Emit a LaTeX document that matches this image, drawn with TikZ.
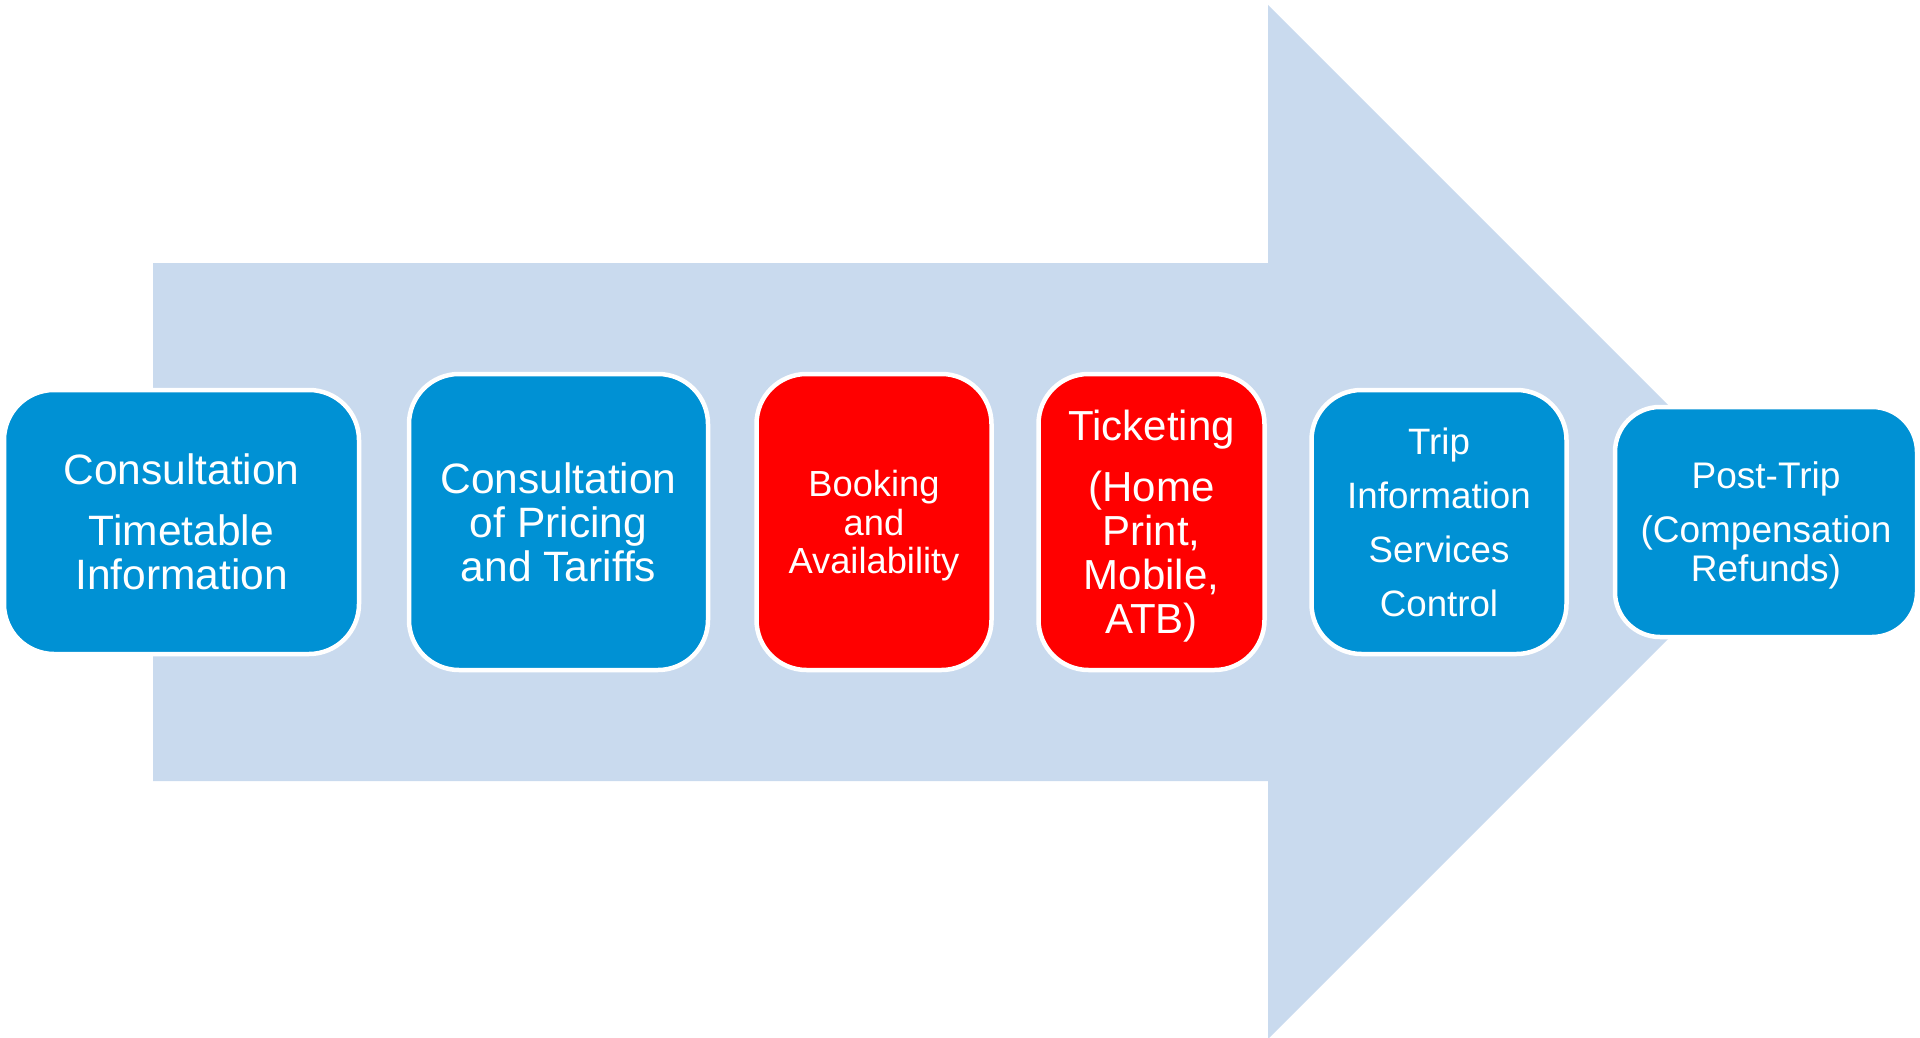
\documentclass[tikz,border=0pt]{standalone}
\usepackage{fontspec}
\setmainfont{Liberation Sans}
\usepackage{tikz}

\definecolor{arrowblue}{RGB}{201,218,238}
\definecolor{stageblue}{RGB}{0,145,212}
\definecolor{stagered}{RGB}{255,0,0}

\begin{document}
\begin{tikzpicture}[x=1pt, y=-1pt,
    stage/.style={draw=white, line width=4.5pt, rounded corners=50pt,
        text=white, align=center, inner sep=0pt},
    bluestage/.style={stage, fill=stageblue},
    redstage/.style={stage, fill=stagered}]

    \useasboundingbox (0,0) rectangle (1920,1038);

    % the big process arrow behind the stages
    \fill[arrowblue] (153,263) -- (1268,263) -- (1268,5) -- (1785,522)
        -- (1268,1039) -- (1268,781) -- (153,781) -- cycle;

    \node[bluestage, minimum width=355pt, minimum height=264pt,
        font=\fontsize{42.5}{44}\selectfont] (consult) at (181.5,522) {
        Consultation\\[17pt]
        Timetable\\
        Information
    };

    \node[bluestage, minimum width=299pt, minimum height=296pt,
        font=\fontsize{42.5}{44}\selectfont] (pricing) at (558.5,522) {
        Consultation\\
        of Pricing\\
        and Tariffs
    };

    \node[redstage, minimum width=235pt, minimum height=296pt, text depth=0pt,
        font=\fontsize{36.3}{38.6}\selectfont] (booking) at (874,522) {
        Booking\\
        and\\
        Availability
    };

    \node[redstage, minimum width=226pt, minimum height=296pt, text depth=0pt,
        font=\fontsize{42}{44}\selectfont] (ticketing) at (1151.5,522) {
        Ticketing\\[17pt]
        (Home\\
        Print,\\
        Mobile,\\
        ATB)
    };

    \node[bluestage, minimum width=255pt, minimum height=264pt,
        font=\fontsize{36.7}{54}\selectfont] (tripinfo) at (1439,522) {
        Trip\\
        Information\\
        Services\\
        Control
    };

    \node[bluestage, minimum width=302pt, minimum height=230pt,
        rounded corners=45pt, text depth=0pt,
        font=\fontsize{37}{39}\selectfont] (posttrip) at (1766,522) {
        Post-Trip\\[15pt]
        (Compensation\\
        Refunds)
    };
\end{tikzpicture}
\end{document}
